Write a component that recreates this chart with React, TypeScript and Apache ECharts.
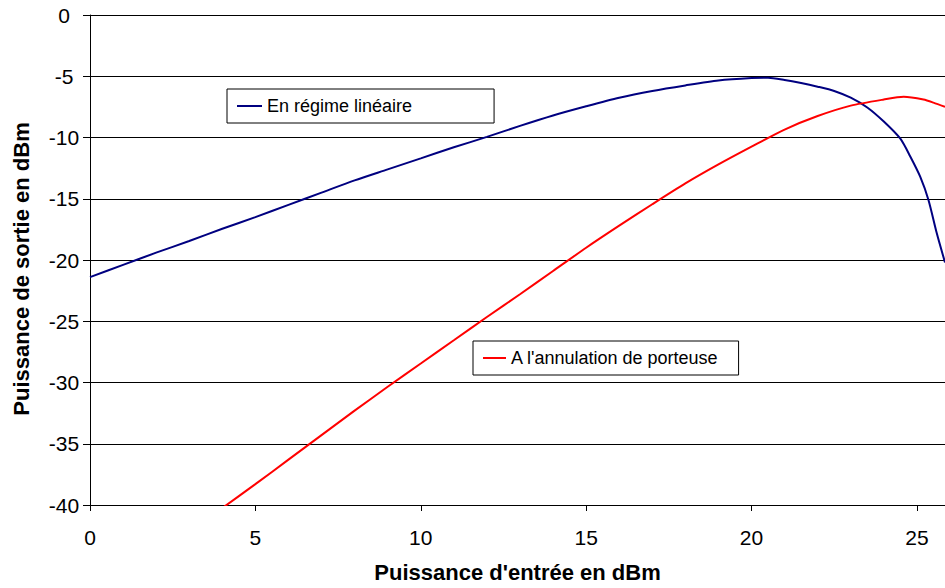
import React, { useEffect, useRef } from "react";
import * as echarts from "echarts";

// Input power (dBm) and output power (dBm) — linear regime
const linearX = [0, 1, 2, 3, 4, 5, 6, 7, 8, 9, 10, 11, 12, 13, 14, 15, 16, 17, 18, 19, 20, 20.5, 21, 21.5, 22, 22.5, 23, 23.5, 24, 24.5, 24.8, 25.1, 25.35, 25.6, 25.85];
const linearY = [-21.4, -20.4, -19.4, -18.45, -17.45, -16.5, -15.5, -14.5, -13.5, -12.6, -11.7, -10.8, -9.95, -9.05, -8.2, -7.45, -6.75, -6.2, -5.75, -5.35, -5.15, -5.12, -5.3, -5.55, -5.85, -6.2, -6.75, -7.55, -8.7, -10.1, -11.55, -13.2, -15.1, -17.8, -20.2];

// Carrier cancellation
const carrierX = [3, 4, 5, 6, 7, 8, 9, 10, 11, 12, 13, 14, 15, 16, 17, 18, 19, 20, 21, 22, 23, 24, 24.6, 25.2, 25.5, 25.85];
const carrierY = [-42.2, -40.25, -38.3, -36.3, -34.3, -32.3, -30.35, -28.45, -26.55, -24.65, -22.8, -20.9, -19.0, -17.2, -15.45, -13.75, -12.2, -10.75, -9.35, -8.25, -7.4, -6.9, -6.68, -6.9, -7.15, -7.5];

const seriesNames = ["En régime linéaire", "A l'annulation de porteuse"];
const seriesColors = ["#000080", "#ff0000"];
const xTicks = [0, 5, 10, 15, 20, 25];
const yTicks = [0, -5, -10, -15, -20, -25, -30, -35, -40];
const xTitle = "Puissance d'entrée en dBm";
const yTitle = "Puissance de sortie en dBm";

const FONT = "'Liberation Sans', Arial, sans-serif";

export default function App() {
  const ref = useRef<HTMLDivElement>(null);
  useEffect(() => {
    if (!ref.current) return;
    const chart = echarts.init(ref.current, null, { renderer: "svg" });
    const zip = (xs: number[], ys: number[]) => xs.map((x, i) => [x, ys[i]]);
    const legendBase = {
      orient: "horizontal",
      icon: "rect",
      itemWidth: 25,
      itemHeight: 2,
      borderColor: "#000",
      borderWidth: 1,
      backgroundColor: "#fff",
      selectedMode: false,
      textStyle: { fontSize: 18, fontFamily: FONT, color: "#000" },
    };
    chart.setOption({
      animation: false,
      backgroundColor: "#fff",
      grid: { left: 90, top: 15, right: 0, bottom: 83, containLabel: false },
      legend: [
        { ...legendBase, data: [seriesNames[0]], left: 227, top: 89, padding: [8, 82, 8, 10] },
        { ...legendBase, data: [seriesNames[1]], left: 473, top: 341, padding: [8, 20, 8, 10], itemWidth: 23 },
      ],
      xAxis: {
        type: "value",
        min: xTicks[0],
        max: 25.85,
        interval: 5,
        name: xTitle,
        nameLocation: "middle",
        nameGap: 56,
        nameTextStyle: { fontSize: 22, fontWeight: "bold", fontFamily: FONT, color: "#000" },
        axisLine: { onZero: false, lineStyle: { color: "#000", width: 1 } },
        axisTick: { show: true, length: 6, inside: false, lineStyle: { color: "#000" } },
        axisLabel: {
          fontSize: 21,
          fontFamily: FONT,
          color: "#000",
          margin: 22,
          showMaxLabel: false,
          formatter: (v: number) => (xTicks.includes(v) ? String(v) : ""),
        },
        splitLine: { show: false },
      },
      yAxis: {
        type: "value",
        min: yTicks[yTicks.length - 1],
        max: yTicks[0],
        interval: 5,
        name: yTitle,
        nameLocation: "middle",
        nameRotate: 90,
        nameGap: 58,
        nameTextStyle: { fontSize: 22, fontWeight: "bold", fontFamily: FONT, color: "#000", padding: [0, 18, 0, 0] },
        axisLine: { show: true, onZero: false, lineStyle: { color: "#000", width: 1 } },
        axisTick: { show: true, length: 7, inside: false, lineStyle: { color: "#000" } },
        axisLabel: { fontSize: 21, fontFamily: FONT, color: "#000", margin: 26, align: "center" },
        splitLine: { show: true, lineStyle: { color: "#000", width: 1 } },
      },
      series: [
        {
          name: seriesNames[0],
          type: "line",
          data: zip(linearX, linearY),
          symbol: "none",
          smooth: 0.25,
          clip: true,
          lineStyle: { color: seriesColors[0], width: 2 },
          itemStyle: { color: seriesColors[0] },
        },
        {
          name: seriesNames[1],
          type: "line",
          data: zip(carrierX, carrierY),
          symbol: "none",
          smooth: 0.25,
          clip: true,
          lineStyle: { color: seriesColors[1], width: 2 },
          itemStyle: { color: seriesColors[1] },
        },
      ],
    });
    return () => chart.dispose();
  }, []);
  return (
    <div
      ref={ref}
      style={{ position: "absolute", left: 0, top: 0, width: 945, height: 588 }}
    />
  );
}
